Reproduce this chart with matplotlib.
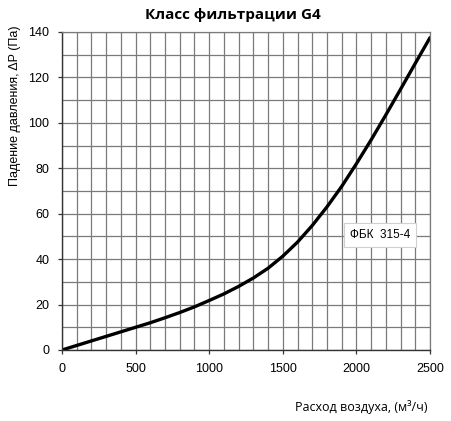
import matplotlib
matplotlib.use('Agg')
import matplotlib.pyplot as plt

plt.rcParams['font.family'] = ['Liberation Sans', 'DejaVu Sans']

# air flow, m3/h
flow = [0, 100, 200, 300, 400, 500, 600, 700, 800, 900, 1000, 1100, 1200,
        1300, 1400, 1500, 1600, 1700, 1800, 1900, 2000, 2100, 2200, 2300,
        2400, 2500]
# pressure drop, Pa
dp = [0, 2, 4, 6, 8, 10, 12, 14.2, 16.5, 19, 21.8, 24.7, 28, 31.7, 36,
      41.3, 47.5, 54.8, 63, 72, 82, 92.5, 103.5, 114.8, 126.2, 137.5]

xticks = [0, 500, 1000, 1500, 2000, 2500]
yticks = [0, 20, 40, 60, 80, 100, 120, 140]
label = 'ФБК  315-4'

fig = plt.figure(figsize=(4.52, 4.21), dpi=100, facecolor='white')
ax = fig.add_axes([62/452, 1 - 350/421, 368/452, 318/421])

ax.set_xlim(0, 2500)
ax.set_ylim(0, 140)
ax.set_xticks(range(0, 2501, 100), minor=True)
ax.set_yticks(range(0, 141, 10), minor=True)
ax.set_xticks(xticks)
ax.set_yticks(yticks)
ax.grid(which='both', color='#7a7a7a', lw=0.9)
ax.set_axisbelow(True)

for s in ['top', 'right']:
    ax.spines[s].set_color('#7a7a7a')
    ax.spines[s].set_linewidth(0.9)
for s in ['left', 'bottom']:
    ax.spines[s].set_color('#333333')
    ax.spines[s].set_linewidth(1.0)

ax.tick_params(which='minor', length=0)
ax.tick_params(which='major', length=3, width=0.9, color='#333333',
               labelsize=9, pad=6)

ax.plot(flow, dp, color='black', lw=2.4, solid_capstyle='round')

ax.text(2160, 50.5, label, ha='center', va='center', fontsize=8.5,
        bbox=dict(boxstyle='square,pad=0.5', fc='white', ec='#d0d0d0', lw=0.8))

fig.text(233/452, 1 - 15/421, 'Класс фильтрации G4', ha='center', va='center',
         fontsize=11, fontweight='bold', family='Open Sans')
fig.text(428/452, 1 - 407/421, 'Расход воздуха, (м³/ч)', ha='right',
         va='center', fontsize=9, family='Open Sans')
fig.text(15/452, 1 - 106/421, 'Падение давления, ΔP (Па)', rotation=90,
         ha='center', va='center', fontsize=9)

fig.savefig('out.png', dpi=100, facecolor='white')
